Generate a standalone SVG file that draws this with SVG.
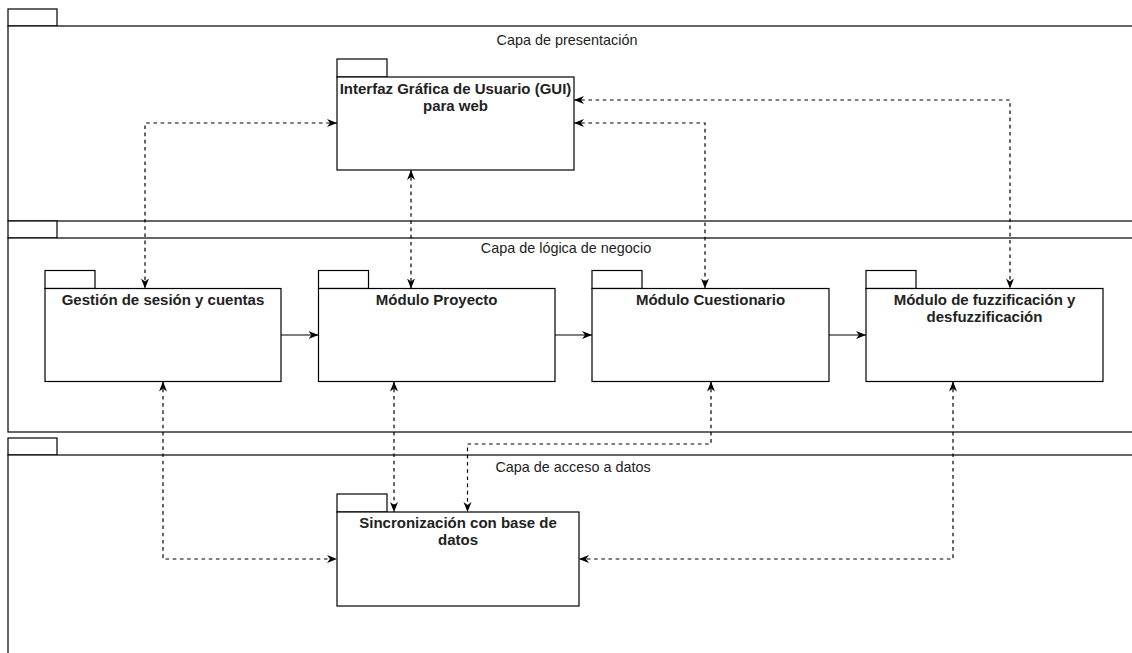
<svg xmlns="http://www.w3.org/2000/svg" width="1132" height="653" viewBox="0 0 1132 653">
<style>
.bg{fill:#ffffff}
.box{fill:#ffffff;stroke:#000;stroke-width:1.2}
.lbl{font-family:"Liberation Sans",Arial,sans-serif;font-size:14.4px;fill:#222;text-anchor:middle}
.pkg{font-weight:bold;font-size:15px}
.dash{fill:none;stroke:#000;stroke-width:1.2;stroke-dasharray:3.6 3.6;marker-start:url(#arr);marker-end:url(#arr)}
.solid{fill:none;stroke:#000;stroke-width:1.2;marker-end:url(#arr)}
</style>
<defs>
<marker id="arr" viewBox="0 0 10 10" refX="10" refY="5" markerWidth="10" markerHeight="10" markerUnits="userSpaceOnUse" orient="auto-start-reverse">
<path d="M0,1 L10,5 L0,9 L3,5 z" fill="#000" stroke="none"/>
</marker>
</defs>
<rect class="bg" x="0" y="0" width="1132" height="653"/>

<g id="layer-presentacion">
<rect class="box" x="8" y="9" width="49" height="17"/>
<rect class="box" x="8" y="26" width="1200" height="195"/>
<text class="lbl" x="567" y="45">Capa de presentación</text>
</g>
<g id="layer-logica">
<rect class="box" x="8" y="221" width="49" height="17"/>
<rect class="box" x="8" y="238" width="1200" height="194"/>
<text class="lbl" x="566" y="253">Capa de lógica de negocio</text>
</g>
<g id="layer-datos">
<rect class="box" x="8" y="438" width="49" height="17"/>
<rect class="box" x="8" y="455" width="1200" height="300"/>
<text class="lbl" x="573" y="472">Capa de acceso a datos</text>
</g>

<g id="gui">
<rect class="box" x="337" y="59" width="50" height="18"/>
<rect class="box" x="337" y="77" width="237" height="93"/>
<text class="lbl pkg" x="455.5" y="94">Interfaz Gráfica de Usuario (GUI)</text>
<text class="lbl pkg" x="455.5" y="111">para web</text>
</g>
<g id="gestion">
<rect class="box" x="45" y="270.5" width="50" height="18"/>
<rect class="box" x="45" y="288.5" width="236" height="93"/>
<text class="lbl pkg" x="163" y="305">Gestión de sesión y cuentas</text>
</g>
<g id="proyecto">
<rect class="box" x="318.5" y="270.5" width="50" height="18"/>
<rect class="box" x="318.5" y="288.5" width="236.5" height="93"/>
<text class="lbl pkg" x="436.7" y="305">Módulo Proyecto</text>
</g>
<g id="cuestionario">
<rect class="box" x="592" y="270.5" width="50" height="18"/>
<rect class="box" x="592" y="288.5" width="237" height="93"/>
<text class="lbl pkg" x="710.5" y="305">Módulo Cuestionario</text>
</g>
<g id="fuzzificacion">
<rect class="box" x="866" y="270.5" width="50" height="18"/>
<rect class="box" x="866" y="288.5" width="237" height="93"/>
<text class="lbl pkg" x="984.5" y="305">Módulo de fuzzificación y</text>
<text class="lbl pkg" x="984.5" y="322">desfuzzificación</text>
</g>
<g id="sincronizacion">
<rect class="box" x="337" y="494" width="50" height="18"/>
<rect class="box" x="337" y="512" width="242" height="94"/>
<text class="lbl pkg" x="458" y="528">Sincronización con base de</text>
<text class="lbl pkg" x="458" y="545">datos</text>
</g>

<g id="connectors">
<path class="dash" d="M337,123 L145,123 L145,288.5"/>
<path class="dash" d="M411,170 L411,288.5"/>
<path class="dash" d="M574,123 L705,123 L705,288.5"/>
<path class="dash" d="M574,100 L1010,100 L1010,288.5"/>
<path class="solid" d="M281,335 L318.5,335"/>
<path class="solid" d="M555,335 L592,335"/>
<path class="solid" d="M829,335 L866,335"/>
<path class="dash" d="M163,381.5 L163,559 L337,559"/>
<path class="dash" d="M394,381.5 L394,512"/>
<path class="dash" d="M711,381.5 L711,444 L467.5,444 L467.5,512"/>
<path class="dash" d="M953,381.5 L953,559 L579,559"/>
</g>
</svg>
